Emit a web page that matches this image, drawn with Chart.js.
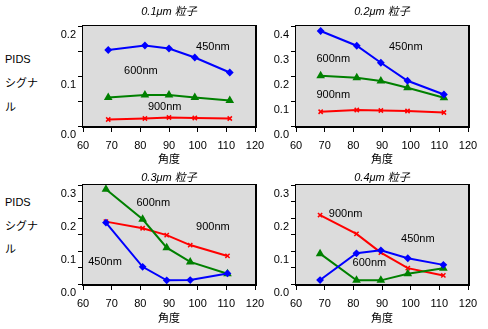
<!DOCTYPE html>
<html>
<head>
<meta charset="utf-8">
<script src="https://cdn.jsdelivr.net/npm/chart.js@4/dist/chart.umd.min.js"></script>
<style>
  body { margin: 0; background: #fff; }
  #wrap { position: relative; width: 488px; height: 329px; overflow: hidden;
          font-family: 'Liberation Sans', Arial, 'Noto Sans CJK JP', sans-serif; font-size: 11px; }
  #wrap canvas { position: absolute; }
  .side { position: absolute; left: 5px; line-height: 24px; }
</style>
</head>
<body>
<div id="wrap">
  <div class="side" style="top:47px">PIDS<br>シグナ<br>ル</div>
  <div class="side" style="top:191px; line-height:23.5px">PIDS<br>シグナ<br>ル</div>
  <canvas id="c1" width="235" height="170" style="left:40px; top:0px"></canvas>
  <canvas id="c2" width="235" height="170" style="left:253px; top:0px"></canvas>
  <canvas id="c3" width="235" height="170" style="left:40px; top:159px"></canvas>
  <canvas id="c4" width="235" height="170" style="left:253px; top:159px"></canvas>
</div>
<script>
// angles (deg) and PIDS signal per particle size
const angles01 = [68.8, 81.6, 90.0, 99.0, 111.2];
const p01_450 = [0.152, 0.161, 0.155, 0.137, 0.107];
const p01_600 = [0.057, 0.062, 0.062, 0.057, 0.051];
const p01_900 = [0.013, 0.015, 0.017, 0.016, 0.015];

const angles02 = [68.6, 81.2, 89.6, 98.9, 111.6];
const p02_450 = [0.380, 0.321, 0.253, 0.181, 0.126];
const p02_600 = [0.201, 0.193, 0.180, 0.153, 0.113];
const p02_900 = [0.057, 0.064, 0.062, 0.060, 0.054];

const angles03 = [68.0, 80.8, 89.2, 97.4, 110.4];
const p03_450 = [0.186, 0.052, 0.011, 0.012, 0.032];
const p03_600 = [0.287, 0.196, 0.110, 0.067, 0.031];
const p03_900 = [0.189, 0.169, 0.148, 0.118, 0.085];

const angles04 = [68.4, 81.1, 89.6, 99.0, 111.4];
const p04_450 = [0.012, 0.093, 0.102, 0.078, 0.058];
const p04_600 = [0.092, 0.011, 0.011, 0.031, 0.048];
const p04_900 = [0.209, 0.152, 0.095, 0.048, 0.026];

const titles = ['0.1μm 粒子', '0.2μm 粒子', '0.3μm 粒子', '0.4μm 粒子'];
const yMax = [0.2, 0.4, 0.3, 0.3];
const seriesNames = ['450nm', '600nm', '900nm'];

Chart.defaults.font.family = "'Liberation Sans', Arial, 'Noto Sans CJK JP', sans-serif";
Chart.defaults.font.size = 11;
Chart.defaults.color = '#000';

function pts(xs, ys) {
    return xs.map((x, i) => ({x: x, y: ys[i]}));
}

// gray plot background
const plotBg = {
    id: 'plotBg',
    beforeDraw(chart) {
        const a = chart.chartArea;
        const c = chart.ctx;
        c.save();
        c.fillStyle = '#dcdcdc';
        c.fillRect(a.left, a.top, a.right - a.left, a.bottom - a.top);
        c.restore();
    }
};

// frame: thin left/top, thick right/bottom
const frame = {
    id: 'frame',
    afterDraw(chart) {
        const a = chart.chartArea;
        const c = chart.ctx;
        c.save();
        c.fillStyle = '#000';
        c.fillRect(a.left - 1, a.top, 1, a.bottom - a.top);
        c.fillRect(a.left - 1, a.top - 1, a.right - a.left + 1, 1);
        c.fillRect(a.right, a.top - 1, 2, a.bottom - a.top + 3);
        c.fillRect(a.left - 1, a.bottom, a.right - a.left + 3, 2);
        c.restore();
    }
};

// series names written inside the plot
const inLabels = {
    id: 'inLabels',
    afterDatasetsDraw(chart, args, opts) {
        const c = chart.ctx;
        const xs = chart.scales.x, ys = chart.scales.y;
        c.save();
        c.font = "11px 'Liberation Sans', Arial, sans-serif";
        c.fillStyle = '#000';
        c.textAlign = 'center';
        c.textBaseline = 'middle';
        (opts.items || []).forEach(it => {
            c.fillText(it[0], xs.getPixelForValue(it[1]), ys.getPixelForValue(it[2]));
        });
        c.restore();
    }
};

function makePanel(id, idx, xs, s450, s600, s900, labels, titleTop, xAxisH) {
    return new Chart(document.getElementById(id), {
        type: 'line',
        data: {
            datasets: [{
                label: seriesNames[0],
                data: pts(xs, s450),
                borderColor: '#0000ff',
                backgroundColor: '#0000ff',
                pointStyle: 'rectRot',
                pointRadius: 2.5,
                borderWidth: 2,
            }, {
                label: seriesNames[1],
                data: pts(xs, s600),
                borderColor: '#008000',
                backgroundColor: '#008000',
                pointStyle: 'triangle',
                pointRadius: 3,
                borderWidth: 2,
            }, {
                label: seriesNames[2],
                data: pts(xs, s900),
                borderColor: '#ff0000',
                backgroundColor: '#ff0000',
                pointStyle: 'crossRot',
                pointRadius: 3,
                pointBorderWidth: 1.5,
                borderWidth: 2,
            }]
        },
        options: {
            responsive: false,
            animation: false,
            layout: { padding: { left: 0, right: 20, top: 0, bottom: 0 } },
            plugins: {
                legend: { display: false },
                tooltip: { enabled: false },
                title: {
                    display: true,
                    text: titles[idx],
                    fullSize: false,
                    font: { size: 11, style: 'italic', weight: 'normal' },
                    padding: { top: titleTop, bottom: 26 - 13.2 - titleTop },
                },
                inLabels: { items: labels },
            },
            scales: {
                x: {
                    type: 'linear',
                    min: 60,
                    max: 120,
                    border: { display: false },
                    grid: { drawOnChartArea: false, color: '#000', tickLength: 6 },
                    ticks: { stepSize: 10, padding: 7, maxRotation: 0 },
                    title: { display: true, text: '角度', font: { size: 11 }, padding: { top: 0, bottom: 3 } },
                    afterFit(scale) { scale.height = xAxisH; },
                },
                y: {
                    min: 0,
                    max: yMax[idx],
                    border: { display: false },
                    grid: { drawOnChartArea: false, color: '#000', tickLength: 5 },
                    ticks: {
                        stepSize: 0.05,
                        padding: 2,
                        labelOffset: 9,
                        callback: v => Math.abs(v * 10 - Math.round(v * 10)) < 1e-6 ? v.toFixed(1) : '',
                    },
                    afterFit(scale) { scale.width = 43; },
                },
            },
        },
        plugins: [plotBg, frame, inLabels],
    });
}

makePanel('c1', 0, angles01, p01_450, p01_600, p01_900,
    [['450nm', 105.3, 0.159], ['600nm', 80.2, 0.110], ['900nm', 88.5, 0.039]], 5.4, 44);
makePanel('c2', 1, angles02, p02_450, p02_600, p02_900,
    [['450nm', 98.3, 0.317], ['600nm', 73.0, 0.270], ['900nm', 73.0, 0.126]], 5.4, 44);
makePanel('c3', 2, angles03, p03_450, p03_600, p03_900,
    [['450nm', 67.7, 0.067], ['600nm', 84.5, 0.245], ['900nm', 105.3, 0.173]], 12.8, 45);
makePanel('c4', 3, angles04, p04_450, p04_600, p04_900,
    [['450nm', 102.5, 0.135], ['600nm', 85.6, 0.065], ['900nm', 77.3, 0.211]], 12.8, 45);
</script>
</body>
</html>
